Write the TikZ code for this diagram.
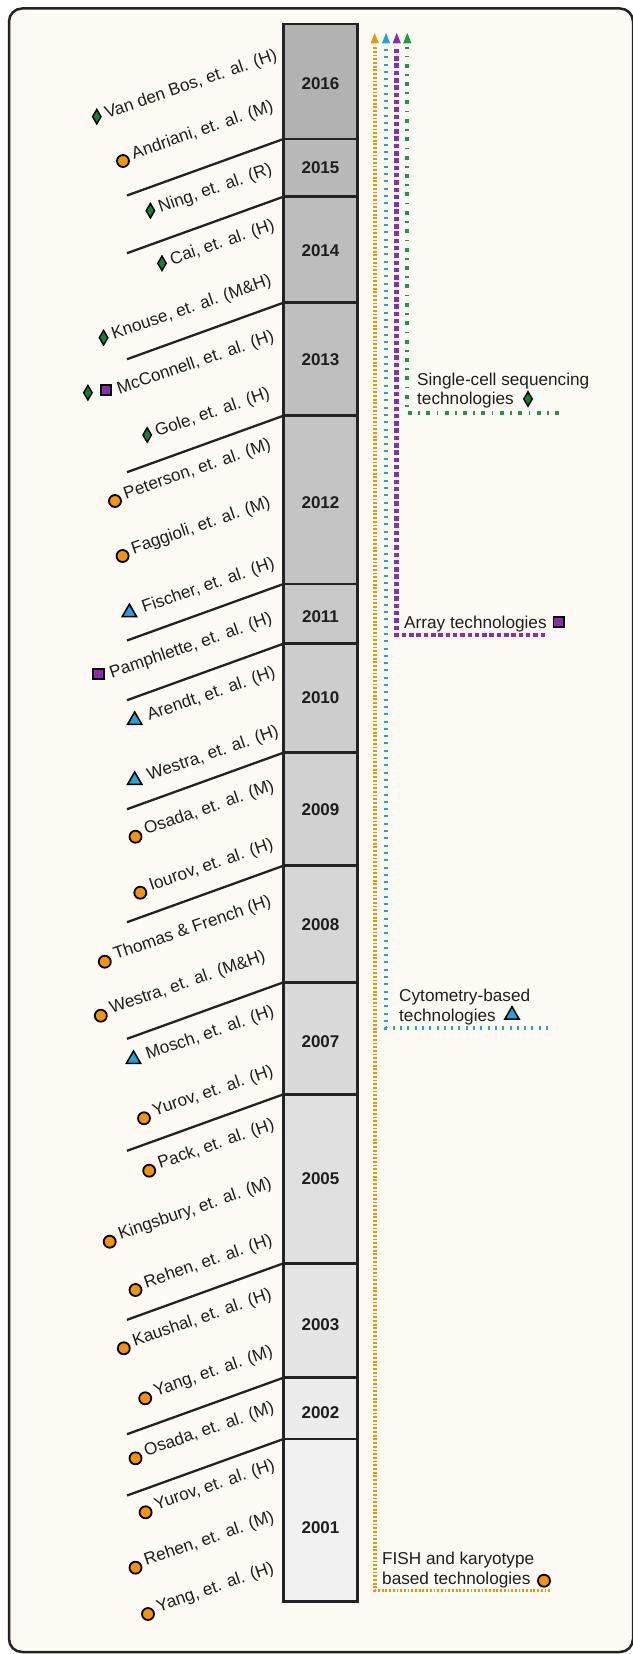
\documentclass[tikz,border=0pt]{standalone}
\usepackage{fontspec}
\setmainfont{Liberation Sans}
\usetikzlibrary{shapes.geometric}
\definecolor{bgc}{RGB}{253,251,243}
\definecolor{framec}{RGB}{35,35,35}
\definecolor{ink}{RGB}{30,30,30}
\definecolor{orgc}{RGB}{245,148,0}
\definecolor{bluc}{RGB}{30,165,220}
\definecolor{purc}{RGB}{140,45,175}
\definecolor{grnc}{RGB}{20,160,60}
\definecolor{mgrn}{RGB}{10,135,50}
\tikzset{
 lab/.style={font=\fontsize{17.2}{20}\selectfont, text=ink, inner sep=0pt, rotate=19, anchor=base west},
 rlab/.style={font=\fontsize{17.2}{20}\selectfont, text=ink, inner sep=0pt, anchor=base west},
 yearlab/.style={font=\bfseries\fontsize{17}{20}\selectfont, text=ink, inner sep=0pt},
 cellbox/.style={draw=framec, line width=2.5pt},
 sepline/.style={draw=framec, line width=2.3pt},
 circm/.style={circle, draw=black, line width=1.8pt, fill=orgc, minimum size=12pt, inner sep=0pt},
 diam/.style={diamond, draw=black, line width=1.5pt, fill=mgrn, minimum width=9pt, minimum height=15pt, inner sep=0pt},
 trim/.style={regular polygon, regular polygon sides=3, draw=black, line width=1.6pt, fill=bluc, minimum size=16.5pt, inner sep=0pt, yshift=-2pt},
 sqm/.style={rectangle, draw=black, line width=1.8pt, fill=purc, minimum size=10.5pt, inner sep=0pt},
 oline/.style={draw=orgc, line width=3.6pt, dash pattern=on 1.8pt off 1.9pt},
 bline/.style={draw=bluc, line width=3.8pt, dash pattern=on 2pt off 5.3pt},
 pline/.style={draw=purc, line width=4.5pt, dash pattern=on 4.5pt off 2.8pt},
 gline/.style={draw=grnc, line width=4pt, dash pattern=on 4pt off 6.4pt on 1.6pt off 6.4pt},
}
% offsets from marker centre to the start of the text baseline
\def\oc{10.8,-1.9}
\def\od{10.1,1.8}
\def\ot{14.5,2.4}
\def\os{13.2,4.5}
\newcommand\reflab[6]{%
  \node[#4] (m#1) at (#2,#3) {};
  \node[lab] (t#1) at ([shift={(#5)}]#2,#3) {#6};
}
\begin{document}
\begin{tikzpicture}[x=1pt,y=-1pt]
\useasboundingbox (0,0) rectangle (632,1654);
\fill[white] (0,0) rectangle (632,1654);
\draw[framec, line width=2.5pt, fill=bgc, rounded corners=13pt] (9,8.5) rectangle (633,1652);

% column cells
\foreach \ya/\yb/\g in {24/139/0.70, 139/196.7/0.725, 196.7/302.7/0.74, 302.7/415.7/0.75, 415.7/584/0.77, 584/643.7/0.79, 643.7/752.7/0.805, 752.7/865.7/0.82, 865.7/982.3/0.84, 982.3/1094.3/0.855, 1094.3/1263.3/0.88, 1263.3/1377.7/0.90, 1377.7/1439/0.925, 1439/1601.7/0.945}{
  \definecolor{cellc}{gray}{\g}
  \draw[cellbox, fill=cellc] (283.5,\ya) rectangle (357.5,\yb);
}
\node[yearlab] (y2016) at (320.5,84) {2016};
\node[yearlab] (y2015) at (320.5,167.3) {2015};
\node[yearlab] (y2014) at (320.5,250.7) {2014};
\node[yearlab] (y2013) at (320.5,359.3) {2013};
\node[yearlab] (y2012) at (320.5,502.3) {2012};
\node[yearlab] (y2011) at (320.5,616.7) {2011};
\node[yearlab] (y2010) at (320.5,697.3) {2010};
\node[yearlab] (y2009) at (320.5,809.3) {2009};
\node[yearlab] (y2008) at (320.5,924.3) {2008};
\node[yearlab] (y2007) at (320.5,1041.3) {2007};
\node[yearlab] (y2005) at (320.5,1178.3) {2005};
\node[yearlab] (y2003) at (320.5,1324.3) {2003};
\node[yearlab] (y2002) at (320.5,1412.3) {2002};
\node[yearlab] (y2001) at (320.5,1527.7) {2001};

% separator lines
\foreach \b [count=\i] in {139,196.7,302.7,415.7,584,643.7,752.7,865.7,982.3,1094.3,1263.3,1377.7,1439}{
  \coordinate (s\i) at (283.5,\b);
  \coordinate (e\i) at (127,\b+56.5);
  \draw[sepline] (s\i) -- (e\i);
}

% left labels
\reflab{a}{96.8}{116.7}{diam}{\od}{Van den Bos, et. al. (H)}
\reflab{b}{123}{161}{circm}{\oc}{Andriani, et. al. (M)}
\reflab{c}{150.4}{210.7}{diam}{\od}{Ning, et. al. (R)}
\reflab{d}{162}{263.3}{diam}{\od}{Cai, et. al. (H)}
\reflab{e}{103.6}{337.7}{diam}{\od}{Knouse, et. al. (M\&H)}
\node[diam] (mf0) at (87.9,392.7) {};
\reflab{f}{106}{390}{sqm}{\os}{McConnell, et. al. (H)}
\reflab{g}{147.2}{435}{diam}{\od}{Gole, et. al. (H)}
\reflab{h}{115}{501}{circm}{\oc}{Peterson, et. al. (M)}
\reflab{i}{122.6}{556}{circm}{\oc}{Faggioli, et. al. (M)}
\reflab{j}{129.4}{610.5}{trim}{\ot}{Fischer, et. al. (H)}
\reflab{k}{98.5}{674}{sqm}{\os}{Pamphlette, et. al. (H)}
\reflab{l}{134.7}{718.3}{trim}{\ot}{Arendt, et. al. (H)}
\reflab{m}{134.7}{778.3}{trim}{\ot}{Westra, et. al. (H)}
\reflab{n}{135.5}{836.7}{circm}{\oc}{Osada, et. al. (M)}
\reflab{o}{140.3}{892.7}{circm}{\oc}{Iourov, et. al. (H)}
\reflab{p}{104.8}{961.7}{circm}{\oc}{Thomas \& French (H)}
\reflab{q}{100.8}{1015.7}{circm}{\oc}{Westra, et. al. (M\&H)}
\reflab{r}{133.5}{1057.3}{trim}{\ot}{Mosch, et. al. (H)}
\reflab{s}{144}{1118.3}{circm}{\oc}{Yurov, et. al. (H)}
\reflab{t}{149.2}{1170.7}{circm}{\oc}{Pack, et. al. (H)}
\reflab{u}{109.7}{1241.7}{circm}{\oc}{Kingsbury, et. al. (M)}
\reflab{v}{135.5}{1290}{circm}{\oc}{Rehen, et. al. (H)}
\reflab{w}{123.8}{1348.3}{circm}{\oc}{Kaushal, et. al. (H)}
\reflab{x}{145.2}{1398.3}{circm}{\oc}{Yang, et. al. (M)}
\reflab{y}{135.5}{1458.3}{circm}{\oc}{Osada, et. al. (M)}
\reflab{z}{145.6}{1512.3}{circm}{\oc}{Yurov, et. al. (H)}
\reflab{aa}{135.5}{1567.7}{circm}{\oc}{Rehen, et. al. (M)}
\reflab{ab}{148}{1614}{circm}{\oc}{Yang, et. al. (H)}

% right labels
\node[rlab] (gl1) at (417,385) {Single-cell sequencing};
\node[rlab] (gl2) at (417,404) {technologies};
\node[diam] (gm) at (528,399) {};
\node[rlab] (pl) at (404,628) {Array technologies};
\node[sqm] (pm) at (558.7,622) {};
\node[rlab] (bl1) at (399,1001) {Cytometry-based};
\node[rlab] (bl2) at (399,1021) {technologies};
\node[trim] (bm) at (512,1013) {};
\node[rlab] (ol1) at (382,1564.5) {FISH and karyotype};
\node[rlab] (ol2) at (382,1584.5) {based technologies};
\node[circm] (om) at (544,1580.7) {};

% technology lines
\coordinate (oEnd) at (550,1590.5);
\coordinate (oCor) at (374.7,1590.5);
\coordinate (oTop) at (374.7,47.5);
\coordinate (bEnd) at (548,1027.7);
\coordinate (bCor) at (386,1027.7);
\coordinate (bTop) at (386,48);
\coordinate (pEnd) at (545,635);
\coordinate (pCor) at (396.7,635);
\coordinate (pTop) at (396.7,46);
\coordinate (gEnd) at (559,412.7);
\coordinate (gCor) at (407.3,412.7);
\coordinate (gTop) at (407.3,47);
\draw[oline] (oEnd) -- (oCor) -- (oTop);
\draw[bline] (bEnd) -- (bCor) -- (bTop);
\draw[pline] (pEnd) -- (pCor) -- (pTop);
\draw[gline] (gEnd) -- (gCor) -- (gTop);
\fill[orgc] (374.7,33) -- ++(4.2,10.5) -- ++(-8.4,0) -- cycle;
\fill[bluc] (386,33) -- ++(4.2,10.5) -- ++(-8.4,0) -- cycle;
\fill[purc] (396.7,33) -- ++(4.2,10.5) -- ++(-8.4,0) -- cycle;
\fill[grnc] (407.3,33) -- ++(4.2,10.5) -- ++(-8.4,0) -- cycle;
\end{tikzpicture}
\end{document}
